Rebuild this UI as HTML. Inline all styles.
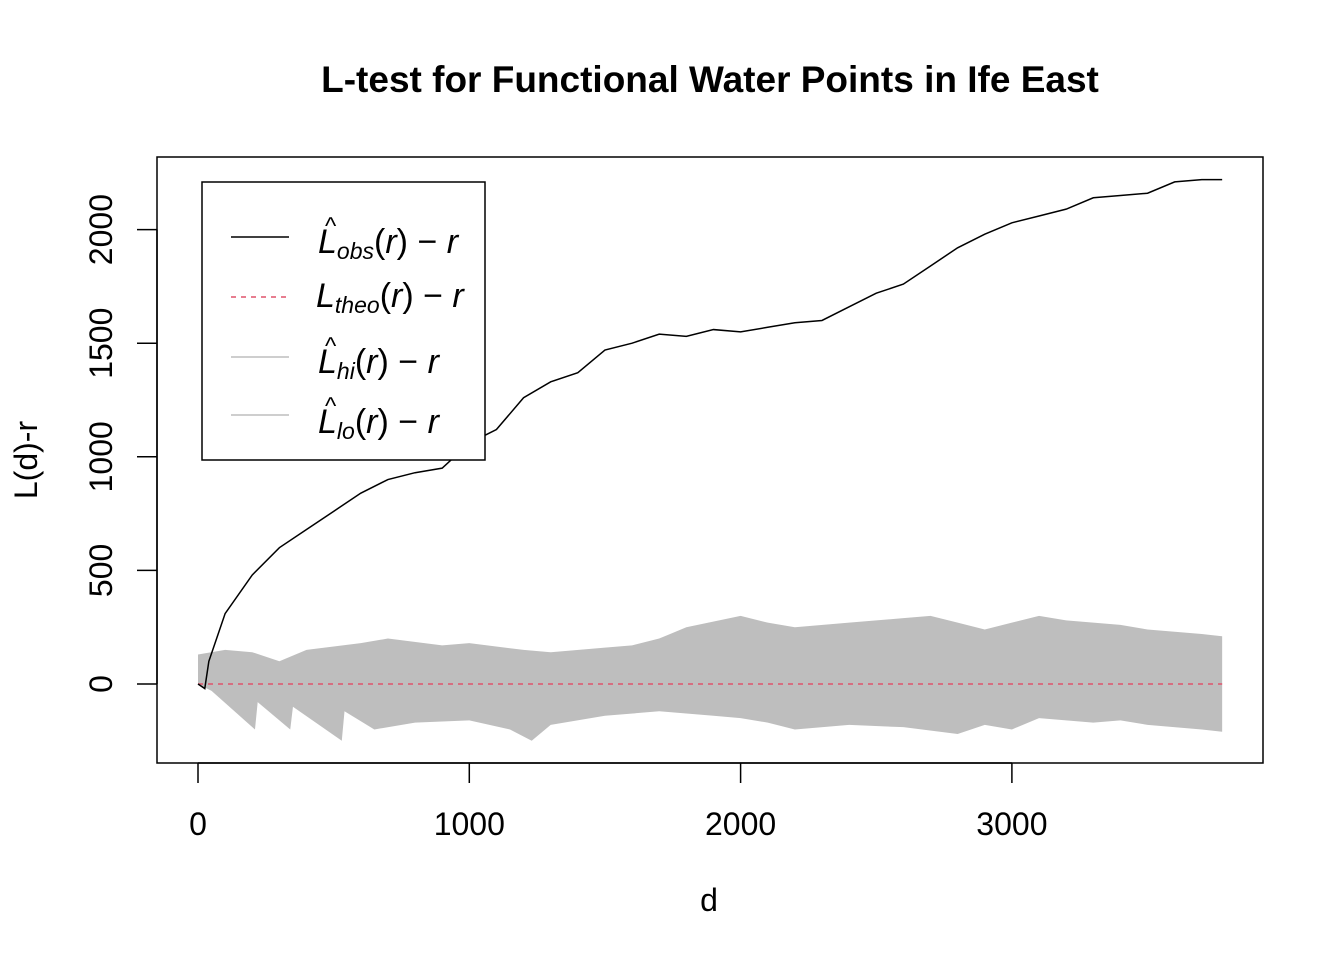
<!DOCTYPE html>
<html><head><meta charset="utf-8"><style>
body{margin:0;background:#fff}
svg text{font-family:"Liberation Sans",sans-serif}
</style></head><body>
<svg id="chart" width="1344" height="960">
<text x="710" y="92" text-anchor="middle" style="font-size:37px;font-weight:bold">L-test for Functional Water Points in Ife East</text>
<g id="plot"></g>
<rect x="157" y="157" width="1106" height="606" fill="none" stroke="#000" stroke-width="1.5"/>
<text x="709" y="911" text-anchor="middle" style="font-size:32px">d</text>
<text transform="translate(37,460) rotate(-90)" text-anchor="middle" style="font-size:32px">L(d)-r</text>
<g>
<rect x="202" y="182" width="283" height="278" fill="#fff" stroke="#000" stroke-width="1.5"/>
<line x1="231" y1="237" x2="289" y2="237" stroke="#000" stroke-width="1.5"/>
<line x1="231" y1="297" x2="289" y2="297" stroke="#DF536B" stroke-width="1.5" stroke-dasharray="5,5"/>
<line x1="231" y1="357" x2="289" y2="357" stroke="#bebebe" stroke-width="1.5"/>
<line x1="231" y1="415" x2="289" y2="415" stroke="#bebebe" stroke-width="1.5"/>
<g style="font-family:'Liberation Serif',serif;font-style:italic;font-size:34px">
<text x="318" y="253">L<tspan style="font-size:23px" dy="6">obs</tspan><tspan dy="-6" font-style="normal">(</tspan>r<tspan font-style="normal">) − </tspan>r</text>
<text x="316" y="307">L<tspan style="font-size:23px" dy="6">theo</tspan><tspan dy="-6" font-style="normal">(</tspan>r<tspan font-style="normal">) − </tspan>r</text>
<text x="318" y="373">L<tspan style="font-size:23px" dy="6">hi</tspan><tspan dy="-6" font-style="normal">(</tspan>r<tspan font-style="normal">) − </tspan>r</text>
<text x="318" y="433">L<tspan style="font-size:23px" dy="6">lo</tspan><tspan dy="-6" font-style="normal">(</tspan>r<tspan font-style="normal">) − </tspan>r</text>
</g>
<g style="font-size:24px"><text x="325" y="234">^</text><text x="325" y="354">^</text><text x="325" y="414">^</text></g>
</g>
</svg>
<script>
const obsD=[0,25,40,100,200,300,400,500,600,700,800,900,1000,1100,1200,1300,1400,1500,1600,1700,1800,1900,2000,2100,2200,2300,2400,2500,2600,2700,2800,2900,3000,3100,3200,3300,3400,3500,3600,3700,3775];
const obsV=[0,-20,100,310,480,600,680,760,840,900,930,950,1060,1120,1260,1330,1370,1470,1500,1540,1530,1560,1550,1570,1590,1600,1660,1720,1760,1840,1920,1980,2030,2060,2090,2140,2150,2160,2210,2220,2220];
const hiD=[0,100,200,300,400,600,700,900,1000,1200,1300,1500,1600,1700,1800,2000,2100,2200,2400,2600,2700,2800,2900,3000,3100,3200,3400,3500,3600,3700,3775];
const hiV=[130,150,140,100,150,180,200,170,180,150,140,160,170,200,250,300,270,250,270,290,300,270,240,270,300,280,260,240,230,220,210];
const loD=[0,50,210,220,340,350,530,540,650,800,1000,1150,1230,1300,1500,1700,1900,2000,2100,2200,2400,2600,2800,2900,3000,3100,3300,3400,3500,3700,3775];
const loV=[0,-30,-200,-80,-200,-100,-250,-120,-200,-170,-160,-200,-250,-180,-140,-120,-140,-150,-170,-200,-180,-190,-220,-180,-200,-150,-170,-160,-180,-200,-210];
const xTicks=[0,1000,2000,3000];
const yTicks=[0,500,1000,1500,2000];
const xs=d=>198+d*0.2713;
const ys=v=>684-v*0.2272;
const NS="http://www.w3.org/2000/svg";
const g=document.getElementById('plot');
function mk(t,a){const e=document.createElementNS(NS,t);for(const k in a)e.setAttribute(k,a[k]);g.appendChild(e);return e;}
let p="M"+hiD.map((d,i)=>xs(d)+","+ys(hiV[i])).join("L");
for(let i=loD.length-1;i>=0;i--)p+="L"+xs(loD[i])+","+ys(loV[i]);
const band=mk('path',{d:p+"Z",fill:"#bebebe"});


const theo=mk('line',{x1:xs(0),x2:xs(3775),y1:ys(0),y2:ys(0),stroke:"#DF536B","stroke-width":1.5,"stroke-dasharray":"5,5"});


const obs=mk('polyline',{points:obsD.map((d,i)=>xs(d)+","+ys(obsV[i])).join(" "),fill:"none",stroke:"#000","stroke-width":1.5});


mk('line',{x1:xs(0),x2:xs(3000),y1:763,y2:763,stroke:"#000","stroke-width":1.5});
xTicks.forEach(t=>{mk('line',{x1:xs(t),x2:xs(t),y1:763,y2:783,stroke:"#000","stroke-width":1.5});
const tx=mk('text',{x:xs(t),y:835,"text-anchor":"middle",style:"font-size:32px"});tx.textContent=t;

});
mk('line',{x1:157,x2:157,y1:ys(0),y2:ys(2000),stroke:"#000","stroke-width":1.5});
yTicks.forEach(t=>{mk('line',{x1:137,x2:157,y1:ys(t),y2:ys(t),stroke:"#000","stroke-width":1.5});
const tx=mk('text',{transform:`translate(112,${ys(t)}) rotate(-90)`,"text-anchor":"middle",style:"font-size:32px"});tx.textContent=t;

});
</script>
</body></html>
